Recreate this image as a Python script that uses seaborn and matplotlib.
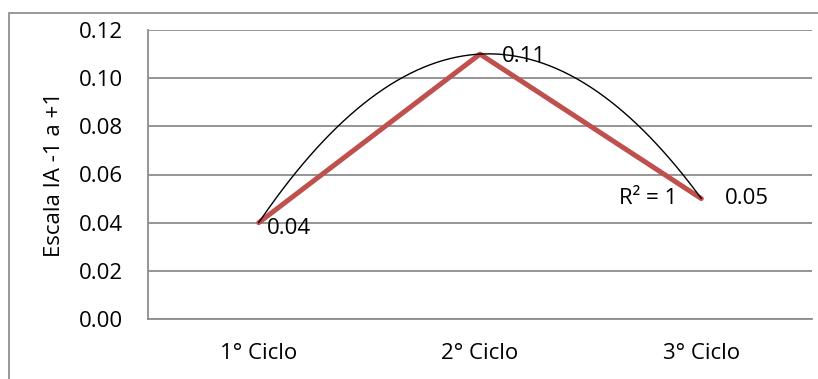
import numpy as np
import pandas as pd
import matplotlib
matplotlib.use('Agg')
import matplotlib.pyplot as plt
from matplotlib.patches import Rectangle
import seaborn as sns

# data
cycles = ["1° Ciclo", "2° Ciclo", "3° Ciclo"]
scores = [0.04, 0.11, 0.05]
y_ticks = [0.00, 0.02, 0.04, 0.06, 0.08, 0.10, 0.12]

sns.set_style("white")
plt.rcParams['font.family'] = ['Open Sans', 'DejaVu Sans']
plt.rcParams['text.color'] = 'black'
plt.rcParams['axes.labelcolor'] = 'black'
plt.rcParams['xtick.labelcolor'] = 'black'
plt.rcParams['ytick.labelcolor'] = 'black'
font_size = 16

df = pd.DataFrame({"pos": np.arange(len(cycles)), "score": scores})

fig = plt.figure(figsize=(8.18, 3.79), dpi=100)
ax = fig.add_axes([148/818, 1 - 319/379, (812-148)/818, (319-30)/379])

# outer chart border (Excel style)
fig.patches.append(Rectangle((9/818, -0.1), 1.0, 1 - 13/379 + 0.1, transform=fig.transFigure,
                             fill=False, edgecolor='#888888', linewidth=1.2))

# gridlines
for t in y_ticks:
    ax.axhline(t, color='#8c8c8c', linewidth=1.3, zorder=0)

# polynomial (order 2) trendline
coef = np.polyfit(df.pos, df.score, 2)
xs = np.linspace(0, len(cycles) - 1, 200)
sns.lineplot(x=xs, y=np.polyval(coef, xs), color='black', linewidth=1.0, ax=ax, zorder=3)

# main series
sns.lineplot(data=df, x="pos", y="score", color='#C0504D', linewidth=3.6, ax=ax, zorder=2)

# data labels
ax.annotate(f"{scores[0]:.2f}", (0, scores[0]), xytext=(6, -4), textcoords='offset points',
            ha='left', va='center', fontsize=font_size)
ax.annotate(f"{scores[1]:.2f}", (1, scores[1]), xytext=(16, -2), textcoords='offset points',
            ha='left', va='center', fontsize=font_size, zorder=1)
ax.annotate(f"{scores[2]:.2f}", (2, scores[2]), xytext=(17, 0), textcoords='offset points',
            ha='left', va='center', fontsize=font_size)
ax.annotate("R² = 1", (2, scores[2]), xytext=(-17, 0), textcoords='offset points',
            ha='right', va='center', fontsize=font_size)

ax.set_xlim(-0.5, len(cycles) - 0.5)
ax.set_ylim(0, 0.12)
ax.set_xticks(df.pos)
ax.set_xticklabels(cycles, fontsize=font_size)
ax.set_yticks(y_ticks)
ax.set_yticklabels([f"{t:.2f}" for t in y_ticks], fontsize=font_size)
ax.tick_params(axis='y', length=6, width=1.2, color='#8c8c8c', pad=12)
ax.tick_params(axis='x', length=0, pad=17)
ax.set_xlabel("")
ax.set_ylabel("Escala IA -1 a +1", fontsize=font_size, labelpad=10)

for side in ['top', 'right']:
    ax.spines[side].set_visible(False)
for side in ['left', 'bottom']:
    ax.spines[side].set_color('#8c8c8c')
    ax.spines[side].set_linewidth(1.3)

plt.savefig("out.png", dpi=100)
